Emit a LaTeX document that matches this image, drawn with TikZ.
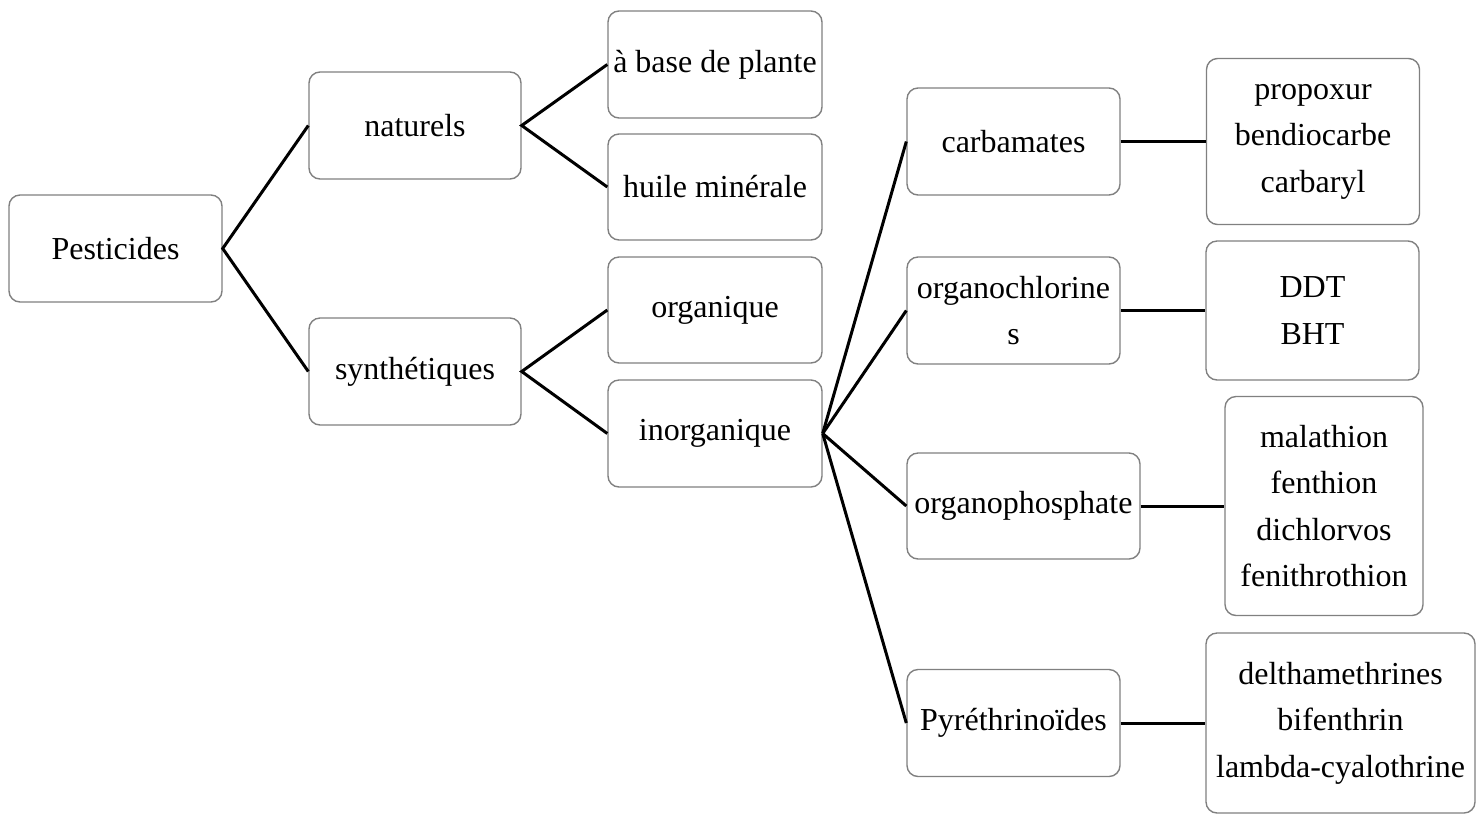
\documentclass[tikz,border=0pt]{standalone}
\usepackage{fontspec}
\setmainfont{Liberation Serif}
\begin{document}
\begin{tikzpicture}[x=1pt,y=-1pt,
  box/.style={draw=black!50, line width=1.4pt, rounded corners=11pt, fill=white,
    inner sep=0pt, align=center, font=\fontsize{32}{46.5}\selectfont},
  conn/.style={line width=3pt, black}]
\useasboundingbox (0,0) rectangle (1482,815);
\node[box, minimum width=213pt, minimum height=107pt] (pest) at (115.5,248.5) {Pesticides};
\node[box, minimum width=212pt, minimum height=107pt] (nat) at (415,125.5) {naturels};
\node[box, minimum width=212pt, minimum height=107pt] (syn) at (415,371.5) {synthétiques};
\node[box, minimum width=214pt, minimum height=107pt] (plante) at (715,64.5) {à base de plante};
\node[box, minimum width=214pt, minimum height=106pt] (huile) at (715,187) {huile minérale};
\node[box, minimum width=214pt, minimum height=106pt] (org) at (715,310) {organique};
\node[box, minimum width=214pt, minimum height=107pt] (inorg) at (715,433.5) {inorganique};
\node[box, minimum width=213pt, minimum height=107pt] (carb) at (1013.5,141.5) {carbamates};
\node[box, minimum width=213pt, minimum height=107pt] (chlor) at (1013.5,310.5) {organochlorine\\s};
\node[box, minimum width=233pt, minimum height=106pt] (phos) at (1023.5,506) {organophosphate};
\node[box, minimum width=213pt, minimum height=107pt] (pyr) at (1013.5,723) {Pyréthrinoïdes};
\node[box, minimum width=213pt, minimum height=166pt] (propox) at (1313,141.5) {propoxur\\bendiocarbe\\carbaryl};
\node[box, minimum width=213pt, minimum height=139pt] (ddt) at (1312.5,310.5) {DDT\\BHT};
\node[box, minimum width=198pt, minimum height=219pt] (mala) at (1324,506) {malathion\\fenthion\\dichlorvos\\fenithrothion};
\node[box, minimum width=269pt, minimum height=180pt] (delta) at (1340.5,723) {delthamethrines\\bifenthrin\\lambda-cyalothrine};
\draw[conn] (nat.west) -- (pest.east) -- (syn.west);
\draw[conn] (plante.west) -- (nat.east) -- (huile.west);
\draw[conn] (org.west) -- (syn.east) -- (inorg.west);
\draw[conn] (inorg.east) -- (carb.west);
\draw[conn] (inorg.east) -- (chlor.west);
\draw[conn] (inorg.east) -- (phos.west);
\draw[conn] (inorg.east) -- (pyr.west);
\draw[conn] (carb.east) -- (propox.west);
\draw[conn] (chlor.east) -- (ddt.west);
\draw[conn] (phos.east) -- (mala.west);
\draw[conn] (pyr.east) -- (delta.west);
\end{tikzpicture}
\end{document}
